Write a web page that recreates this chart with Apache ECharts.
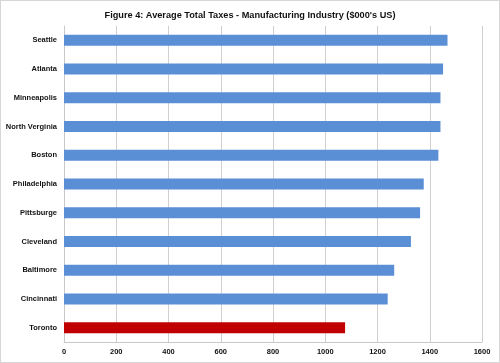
<!DOCTYPE html>
<html><head><meta charset="utf-8">
<script src="https://cdn.jsdelivr.net/npm/echarts@6/dist/echarts.min.js"></script>
<style>html,body{margin:0;padding:0;background:#fff}#c{width:500px;height:363px;box-sizing:border-box;border:1px solid #d6d6d6}</style>
</head><body><div id="c"></div>
<script>
var title = "Figure 4: Average Total Taxes - Manufacturing Industry ($000's US)";
var cities = ["Seattle","Atlanta","Minneapolis","North Verginia","Boston","Philadelphia","Pittsburge","Cleveland","Baltimore","Cincinnati","Toronto"];
var taxes = [1468,1451,1441,1441,1433,1377,1363,1328,1264,1239,1076];
var highlight = "Toronto";
var xTicks = [0,200,400,600,800,1000,1200,1400,1600];

var chart = echarts.init(document.getElementById('c'), null, {renderer:'canvas'});
chart.setOption({
  animation:false,
  title:{text:title,left:'center',top:5,textStyle:{fontFamily:'Liberation Sans',fontWeight:'bold',fontSize:9.2,color:'#111'}},
  grid:{left:63,right:17,top:25,bottom:20,containLabel:false},
  xAxis:{type:'value',min:xTicks[0],max:xTicks[xTicks.length-1],interval:200,
    axisLine:{show:true,lineStyle:{color:'#c8c8c8'}},axisTick:{show:false},
    splitLine:{show:true,lineStyle:{color:'#d0d0d0',width:1}},
    axisLabel:{margin:6,fontFamily:'Liberation Sans',fontWeight:'bold',fontSize:7.5,color:'#111',
      formatter:function(v){return String(v);}}},
  yAxis:{type:'category',data:cities,inverse:true,
    axisLine:{show:true,lineStyle:{color:'#c8c8c8'}},axisTick:{show:false},
    axisLabel:{margin:7,fontFamily:'Liberation Sans',fontWeight:'bold',fontSize:7.5,color:'#111'}},
  series:[{type:'bar',barWidth:11,
    data:taxes.map(function(v,i){return {value:v,itemStyle:{color:cities[i]===highlight?'#c00000':'#5a8fd6'}};})}]
});
</script></body></html>
